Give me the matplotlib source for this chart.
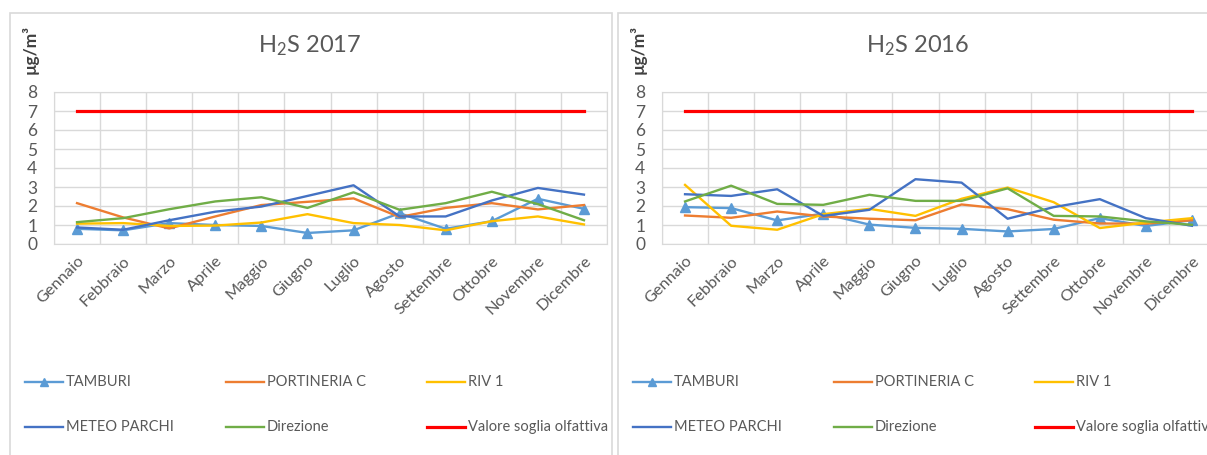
import numpy as np
import matplotlib
matplotlib.use('Agg')
import matplotlib.pyplot as plt
from matplotlib.patches import Rectangle
from matplotlib.lines import Line2D

plt.rcParams['font.family'] = ['Lato', 'DejaVu Sans']
plt.rcParams['mathtext.fontset'] = 'custom'
plt.rcParams['mathtext.rm'] = 'Lato'
plt.rcParams['mathtext.it'] = 'Lato'

W, H = 1207, 455
GRAY = '#595959'
GRID = '#D9D9D9'

mesi = ['Gennaio', 'Febbraio', 'Marzo', 'Aprile', 'Maggio', 'Giugno',
        'Luglio', 'Agosto', 'Settembre', 'Ottobre', 'Novembre', 'Dicembre']

# concentrazioni medie mensili H2S [ug/m3]
tamburi_17 = [0.80, 0.72, 1.10, 1.00, 0.95, 0.58, 0.72, 1.62, 0.80, 1.20, 2.38, 1.85]
portineria_17 = [2.15, 1.40, 0.82, 1.45, 2.05, 2.22, 2.40, 1.42, 1.90, 2.15, 1.82, 2.05]
riv1_17 = [1.07, 1.10, 0.95, 0.97, 1.13, 1.57, 1.10, 1.00, 0.72, 1.20, 1.45, 1.03]
meteo_17 = [0.87, 0.75, 1.25, 1.70, 1.97, 2.53, 3.09, 1.45, 1.45, 2.29, 2.95, 2.60]
direzione_17 = [1.15, 1.36, 1.83, 2.24, 2.46, 1.90, 2.72, 1.80, 2.15, 2.75, 2.10, 1.25]

tamburi_16 = [1.94, 1.89, 1.24, 1.60, 1.02, 0.85, 0.80, 0.66, 0.79, 1.36, 0.95, 1.25]
portineria_16 = [1.50, 1.38, 1.71, 1.45, 1.33, 1.25, 2.08, 1.83, 1.28, 1.08, 1.07, 1.25]
riv1_16 = [3.11, 0.96, 0.75, 1.57, 1.85, 1.48, 2.38, 2.97, 2.20, 0.84, 1.13, 1.36]
meteo_16 = [2.62, 2.53, 2.88, 1.48, 1.80, 3.41, 3.23, 1.33, 1.94, 2.36, 1.36, 0.96]
direzione_16 = [2.24, 3.07, 2.11, 2.06, 2.59, 2.27, 2.27, 2.93, 1.48, 1.45, 1.19, 1.01]

soglia = 7.0  # valore soglia olfattiva

nomi = ['TAMBURI', 'PORTINERIA C', 'RIV 1', 'METEO PARCHI', 'Direzione',
        'Valore soglia olfattiva']
colori = ['#5B9BD5', '#ED7D31', '#FFC000', '#4472C4', '#70AD47', '#FF0000']


def fx(px):
    return px / W


def fy(py):
    return 1 - py / H


fig = plt.figure(figsize=(W / 100, H / 100), dpi=100)


def pannello(x0, titolo, serie):
    # cornice del grafico
    fig.patches.append(Rectangle((fx(x0 - 44), fy(470)), fx(602), fy(13) - fy(470),
                                 transform=fig.transFigure, fill=False,
                                 edgecolor=GRID, lw=1.2))
    ax = fig.add_axes([fx(x0), fy(244), fx(553), fy(92) - fy(244)])
    x = np.arange(len(mesi))
    for i, s in enumerate(serie):
        if i == 0:
            ax.plot(x, s, color=colori[i], lw=1.7, marker='^', ms=7, zorder=3)
        else:
            ax.plot(x, s, color=colori[i], lw=1.7, zorder=3)
    ax.plot(x, [soglia] * len(mesi), color=colori[5], lw=2.3, zorder=3)

    ax.set_xlim(-0.5, len(mesi) - 0.5)
    ax.set_ylim(0, 8)
    ax.set_yticks(range(0, 9))
    ax.set_xticks(x)
    ax.set_xticks(np.arange(-0.5, len(mesi)), minor=True)
    ax.set_xticklabels(mesi, rotation=45, ha='right', va='top',
                       rotation_mode='anchor', color=GRAY, fontsize=11.8)
    ax.tick_params(axis='x', which='both', length=0, pad=7)
    ax.tick_params(axis='y', length=0, pad=12, labelsize=12.5, labelcolor=GRAY)
    ax.grid(True, axis='y', color=GRID, lw=1)
    ax.grid(True, axis='x', which='minor', color=GRID, lw=1)
    ax.grid(False, axis='x', which='major')
    for sp in ax.spines.values():
        sp.set_color(GRID)
    ax.set_axisbelow(True)

    fig.text(fx(x0 - 24), fy(50), 'µg/m³', rotation=90, ha='center', va='center',
             fontsize=12.5, color='#404040', fontweight='bold')
    fig.text(fx(x0 + 256), fy(46), titolo, ha='center', va='center',
             fontsize=17, color=GRAY)

    # legenda su due righe
    for k, nome in enumerate(nomi):
        lx = x0 - 29 + (k % 3) * 201
        ly = 382 + (k // 3) * 45
        if k == 0:
            xs = [fx(lx), fx(lx + 19), fx(lx + 38)]
        else:
            xs = [fx(lx), fx(lx + 38)]
        fig.lines.append(Line2D(xs, [fy(ly)] * len(xs),
                                transform=fig.transFigure, color=colori[k],
                                lw=2.3 if k == 5 else 1.7,
                                marker='^' if k == 0 else None,
                                markevery=[1] if k == 0 else None, ms=6))
        fig.text(fx(lx + 41), fy(ly), nome, ha='left', va='center',
                 fontsize=10.5, color=GRAY)
    return ax


pannello(54, 'H$_2$S 2017', [tamburi_17, portineria_17, riv1_17, meteo_17, direzione_17])
pannello(662, 'H$_2$S 2016', [tamburi_16, portineria_16, riv1_16, meteo_16, direzione_16])

fig.savefig('out.png', dpi=100)
